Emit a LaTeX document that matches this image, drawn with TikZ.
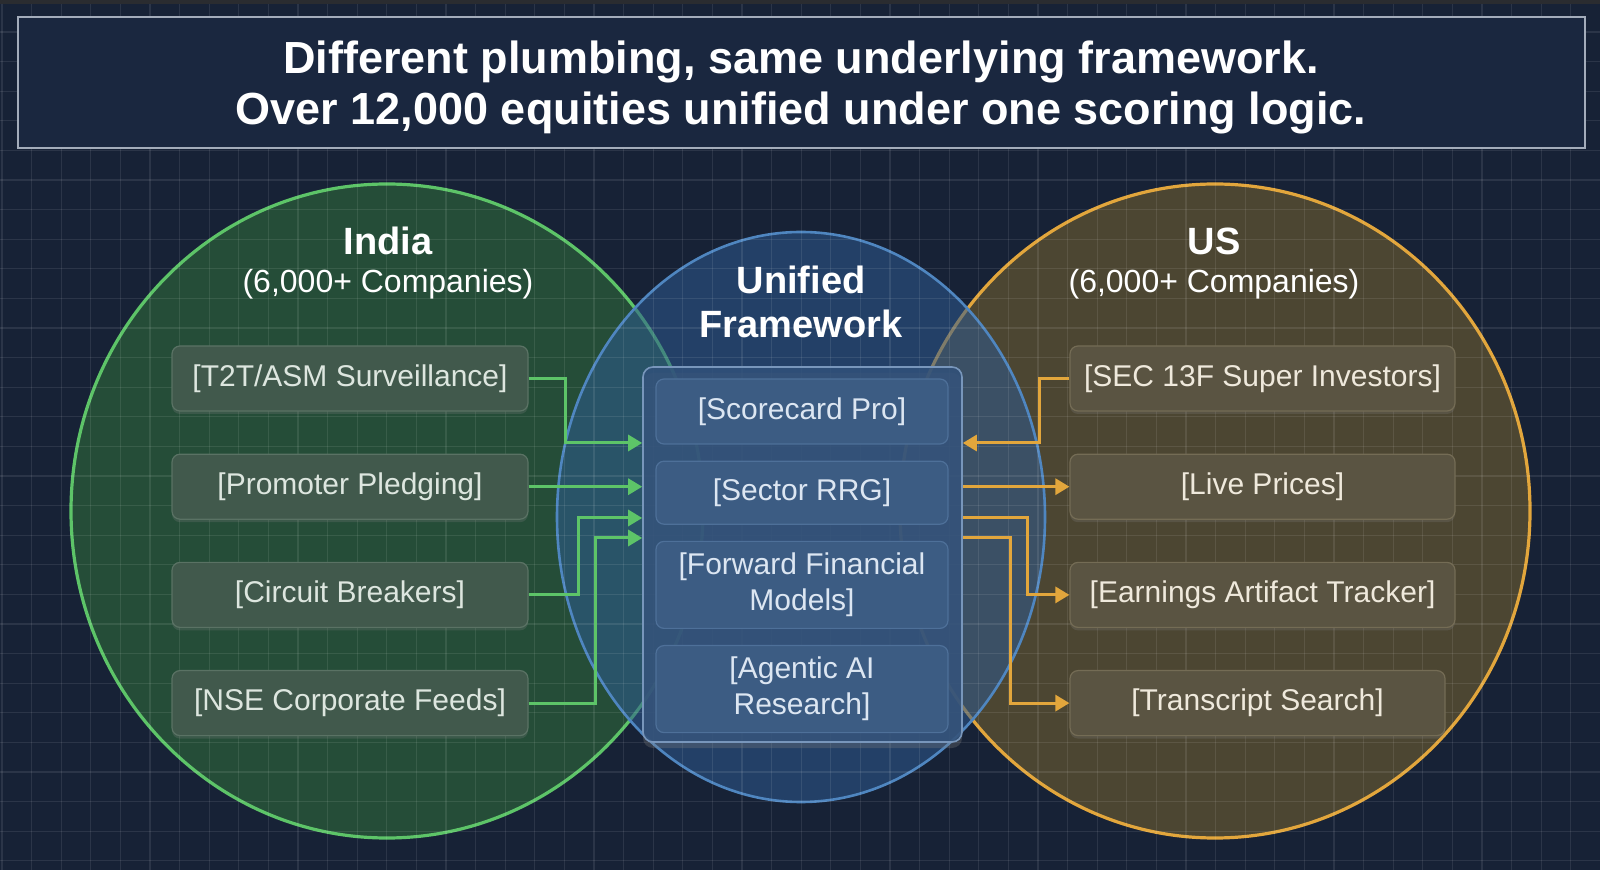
\documentclass[tikz,border=0pt]{standalone}
\usepackage{fontspec}
\setmainfont{Liberation Sans}
\usepackage{tikz}
\usetikzlibrary{arrows.meta,positioning,shadows}
\definecolor{bgnavy}{HTML}{172236}
\definecolor{topstrip}{HTML}{2A2C30}
\definecolor{titlefill}{HTML}{1A273F}
\definecolor{titleline}{HTML}{A3ACBA}
\definecolor{indiafill}{HTML}{2F6A3A}
\definecolor{indialine}{HTML}{5DC468}
\definecolor{usfill}{HTML}{705F30}
\definecolor{usline}{HTML}{E2A63C}
\definecolor{unifill}{HTML}{2E5A90}
\definecolor{uniline}{HTML}{4F86C0}
\definecolor{lboxfill}{HTML}{41594C}
\definecolor{lboxline}{HTML}{5A7264}
\definecolor{rboxfill}{HTML}{5A5442}
\definecolor{rboxline}{HTML}{746C55}
\definecolor{cboxfill}{HTML}{3C5C83}
\definecolor{cboxline}{HTML}{4E7099}
\definecolor{framefill}{HTML}{31517A}
\definecolor{frameline}{HTML}{7896BB}
\definecolor{ltext}{HTML}{DDE6DF}
\definecolor{rtext}{HTML}{EFE9DC}
\definecolor{ctext}{HTML}{DCE6F2}

\tikzset{
  gridline/.style={draw=white, opacity=0.09, line width=0.6pt},
  regtitle/.style={text=white, font=\fontsize{19}{22}\selectfont\bfseries, align=center},
  regsub/.style={text=white, font=\fontsize{16}{19}\selectfont},
  srcbox/.style={rounded corners=4pt, line width=0.6pt, minimum width=178pt,
    minimum height=32.5pt, inner sep=2pt, font=\fontsize{15}{18}\selectfont,
    drop shadow={opacity=0.25, shadow xshift=0pt, shadow yshift=-1.5pt}},
  indiabox/.style={srcbox, fill=lboxfill, draw=lboxline, text=ltext},
  usbox/.style={srcbox, fill=rboxfill, draw=rboxline, text=rtext, minimum width=192.5pt},
  inbox/.style={rounded corners=4pt, fill=cboxfill, draw=cboxline, line width=0.6pt,
    text=ctext, minimum width=146pt, align=center, inner sep=2pt,
    font=\fontsize{15}{18}\selectfont},
  garrow/.style={draw=indialine, line width=1.5pt, -{Triangle[length=7pt,width=8pt]}},
  oarrow/.style={draw=usline, line width=1.5pt, -{Triangle[length=7pt,width=8pt]}}
}

\begin{document}
\begin{tikzpicture}[x=0.5pt,y=-0.5pt]
  \useasboundingbox (0,0) rectangle (1600,870);
  \fill[bgnavy] (0,0) rectangle (1600,870);
  \fill[topstrip] (0,0) rectangle (1600,4);

  % the three regions
  \fill[indiafill, fill opacity=0.6] (387,511) ellipse [x radius=316, y radius=327];
  \draw[indialine, line width=1.6pt] (387,511) ellipse [x radius=316, y radius=327];
  \fill[usfill, fill opacity=0.6] (1215,511) ellipse [x radius=315, y radius=327];
  \draw[usline, line width=1.6pt] (1215,511) ellipse [x radius=315, y radius=327];
  \fill[unifill, fill opacity=0.55] (801,517) ellipse [x radius=244, y radius=285];
  \draw[uniline, line width=1.3pt] (801,517) ellipse [x radius=244, y radius=285];

  % grid
  \foreach \gx in {2,31.6,...,1600}
    \draw[gridline] (\gx,4) -- (\gx,870);
  \foreach \gy in {32,61.6,...,870}
    \draw[gridline] (0,\gy) -- (1600,\gy);

  \node[fill=titlefill, draw=titleline, line width=0.8pt, minimum width=783.5pt,
    minimum height=65.5pt] (title) at (801.5,82.5) {};
  \node[align=center, text=white, font=\fontsize{22.5}{25.5}\selectfont\bfseries]
    (titletext) at (801,87)
    {Different plumbing, same underlying framework.\\Over 12,000 equities unified under one scoring logic.};

  \node[regtitle] (india) at (388,241) {India};
  \node[regsub] (indiasub) at (388,284) {(6,000+ Companies)};
  \node[regtitle] (us) at (1214,241) {US};
  \node[regsub] (ussub) at (1214,284) {(6,000+ Companies)};
  \node[regtitle] (unified) at (801,302) {Unified\\Framework};

  % India sources
  \node[indiabox] (t2t) at (350,378.5) {[T2T/ASM Surveillance]};
  \node[indiabox, below=21pt of t2t] (pledge) {[Promoter Pledging]};
  \node[indiabox, below=21pt of pledge] (circuit) {[Circuit Breakers]};
  \node[indiabox, below=21pt of circuit] (nse) {[NSE Corporate Feeds]};

  % US sources
  \node[usbox] (sec) at (1262.5,378.5) {[SEC 13F Super Investors]};
  \node[usbox, below=21pt of sec] (live) {[Live Prices]};
  \node[usbox, below=21pt of live] (earn) {[Earnings Artifact Tracker]};
  \node[usbox, below=21pt of earn, minimum width=187.5pt, xshift=-2.5pt] (trans) {[Transcript Search]};

  % framework
  \node[rounded corners=5pt, fill=framefill, fill opacity=0.85, draw=frameline,
    line width=0.8pt, minimum width=159.5pt, minimum height=187.5pt,
    drop shadow={opacity=0.3, shadow xshift=0pt, shadow yshift=-3pt}] (frame) at (802.5,554.5) {};
  \node[inbox, minimum height=32.5pt] (score) at (802,411.5) {[Scorecard Pro]};
  \node[inbox, minimum height=31.5pt, below=8pt of score] (rrg) {[Sector RRG]};
  \node[inbox, minimum height=43.5pt, below=8pt of rrg] (fwd) {[Forward Financial\\Models]};
  \node[inbox, minimum height=43.5pt, below=8pt of fwd] (agent) {[Agentic AI\\Research]};

  \coordinate (gin1) at (frame.west |- 0,443);
  \coordinate (gin3) at (frame.west |- 0,518);
  \coordinate (gin4) at (frame.west |- 0,538);
  \coordinate (oin1) at (frame.east |- 0,443);
  \coordinate (oout3) at (frame.east |- 0,518);
  \coordinate (oout4) at (frame.east |- 0,538);

  \draw[garrow] (t2t.east) -- ++(37,0) |- (gin1);
  \draw[garrow] (pledge.east) -- (pledge.east -| frame.west);
  \draw[garrow] (circuit.east) -- ++(50,0) |- (gin3);
  \draw[garrow] (nse.east) -- ++(67,0) |- (gin4);

  \draw[oarrow] (sec.west) -- ++(-30,0) |- (oin1);
  \draw[oarrow] (live.west -| frame.east) -- (live.west);
  \draw[oarrow] (oout3) -- ++(65,0) |- (earn.west);
  \draw[oarrow] (oout4) -- ++(48,0) |- (trans.west);
\end{tikzpicture}
\end{document}
